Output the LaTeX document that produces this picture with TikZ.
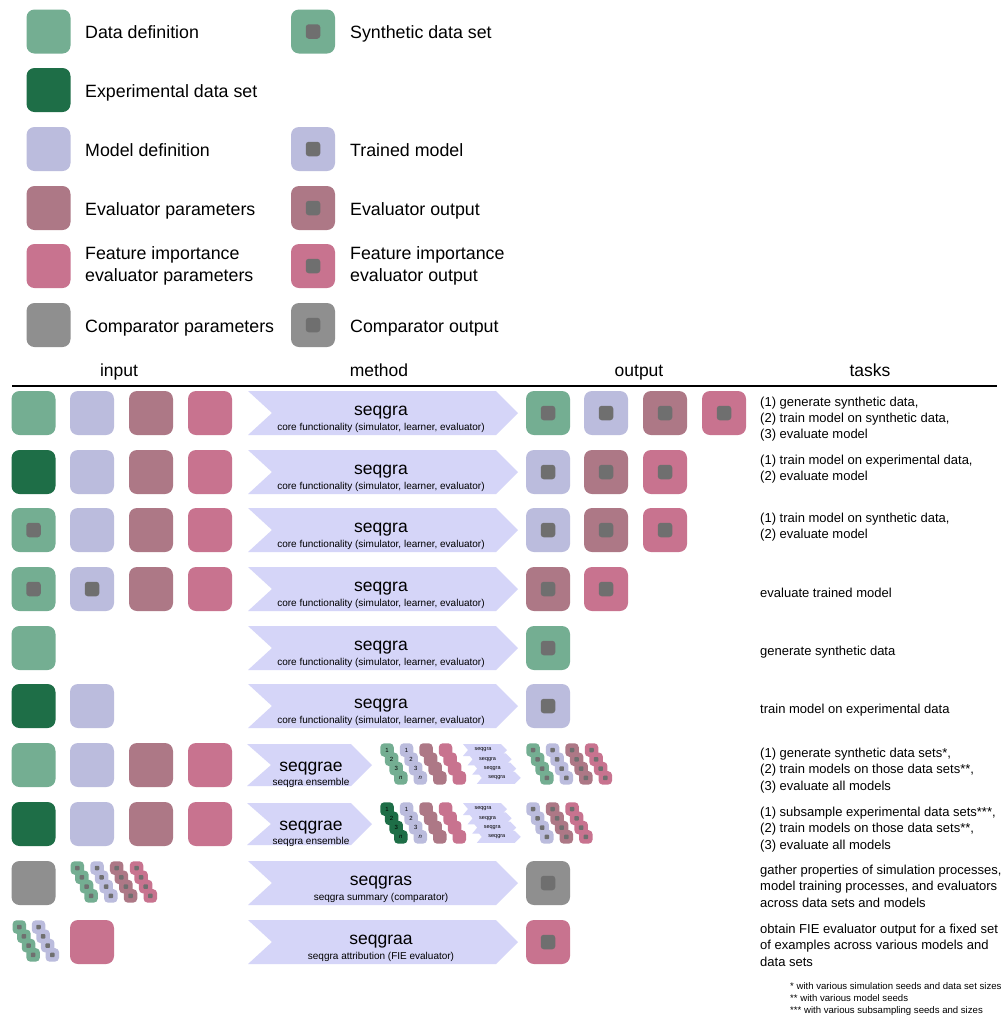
\documentclass[tikz,border=0pt]{standalone}
\usepackage{fontspec}
\setmainfont{Liberation Sans}
\definecolor{cdat}{HTML}{74AE92}
\definecolor{cexp}{HTML}{1E6E47}
\definecolor{cmod}{HTML}{BBBCDD}
\definecolor{ceva}{HTML}{AD7886}
\definecolor{cfie}{HTML}{C8738F}
\definecolor{ccmp}{HTML}{8F8F8F}
\definecolor{csq}{HTML}{6F6F6F}
\definecolor{carr}{HTML}{D5D5F8}
\newcommand{\fs}[2]{\fontsize{#1}{#2}\selectfont}
\tikzset{
  bigbox/.style={rounded corners=8pt, minimum size=44pt, inner sep=0pt, outer sep=0pt},
  bigsq/.style={fill=csq, rounded corners=3pt, minimum size=14.5pt, inner sep=0pt},
  smallbox/.style={rounded corners=4pt, minimum size=13.5pt, inner sep=0pt, font=\fs{6}{6}},
  smallsq/.style={fill=csq, minimum size=4.5pt, inner sep=0pt, rounded corners=0.8pt},
  legtext/.style={anchor=base west, inner sep=0pt, font=\fs{17.8}{22}},
  legtext2/.style={anchor=west, align=left, inner sep=0pt, font=\fs{17.8}{22}},
  head/.style={anchor=base, inner sep=0pt, font=\fs{17.5}{20}},
  task/.style={anchor=north west, align=left, inner sep=0pt, font=\fs{13}{16.2}},
  task1/.style={anchor=west, inner sep=0pt, font=\fs{13}{16}},
  atitle/.style={anchor=base, inner sep=0pt, font=\fs{17.5}{20}},
  asub/.style={anchor=base, inner sep=0pt, font=\fs{10}{12}},
  mtext/.style={inner sep=0pt, font=\fs{5.5}{6}},
}
% big box
\newcommand{\BB}[4]{\node[bigbox,fill=#4] (#1) at (#2,#3) {};}
% big box with inner square
\newcommand{\BS}[4]{\node[bigbox,fill=#4] (#1) at (#2,#3) {}; \node[bigsq] (#1q) at (#1) {};}
% numbered stack
\newcommand{\SN}[4]{\foreach \k/\l in {0/1,1/2,2/3,3/{\itshape n}} {\node[smallbox,fill=#4] (#1\k) at ({#2+4.6*\k},{#3+9.3*\k}) {\l};}}
% blank stack
\newcommand{\SB}[4]{\foreach \k in {0,...,3} {\node[smallbox,fill=#4] (#1\k) at ({#2+4.6*\k},{#3+9.3*\k}) {};}}
% stack with squares
\newcommand{\SQ}[4]{\foreach \k in {0,...,3} {\node[smallbox,fill=#4] (#1\k) at ({#2+4.6*\k},{#3+9.3*\k}) {}; \node[smallsq] (#1q\k) at (#1\k) {};}}
% chevron: name, xleft, xright, ycenter, halfheight, notch
\newcommand{\CHEV}[6]{\fill[carr] (#2,{#4-#5}) -- ({#3-#5},{#4-#5}) -- (#3,#4) -- ({#3-#5},{#4+#5}) -- (#2,{#4+#5}) -- ({#2+#6},#4) -- cycle;}
% big arrow with title: name, ycenter, title, subtitle
\newcommand{\BIGA}[4]{\CHEV{#1}{248}{518}{#2}{22}{24}%
  \node[atitle] (#1t) at (381,{#2+2.5}) {#3};
  \node[asub] (#1s) at (381,{#2+17.5}) {#4};}
% small arrow group: name, ycenter
\newcommand{\SMALLA}[2]{\CHEV{#1}{247}{372}{#2}{21}{24}%
  \node[atitle] (#1t) at (311,{#2+6}) {seqgrae};
  \node[asub] (#1s) at (311,{#2+20}) {seqgra ensemble};
  \foreach \k in {0,...,3} {\CHEV{#1m\k}{463+4.6*\k}{507+4.6*\k}{#2-15+9.3*\k}{6}{5}
    \node[mtext] (#1mt\k) at ({483+4.6*\k},{#2-15+9.3*\k}) {seqgra};}}
\begin{document}
\begin{tikzpicture}[x=1pt,y=-1pt]
\path[use as bounding box, fill=white] (0,0) rectangle (1005,1021);

% ---------- legend ----------
\BB{L1}{48.5}{31.5}{cdat}   \node[legtext] (L1t) at (85,38.5) {Data definition};
\BS{R1}{313}{31.5}{cdat}    \node[legtext] (R1t) at (350,38.5) {Synthetic data set};
\BB{L2}{48.5}{90}{cexp}     \node[legtext] (L2t) at (85,97) {Experimental data set};
\BB{L3}{48.5}{149}{cmod}    \node[legtext] (L3t) at (85,156) {Model definition};
\BS{R3}{313}{149}{cmod}     \node[legtext] (R3t) at (350,156) {Trained model};
\BB{L4}{48.5}{208}{ceva}    \node[legtext] (L4t) at (85,215) {Evaluator parameters};
\BS{R4}{313}{208}{ceva}     \node[legtext] (R4t) at (350,215) {Evaluator output};
\BB{L5}{48.5}{266}{cfie}    \node[legtext2] (L5t) at (85,265.5) {Feature importance\\evaluator parameters};
\BS{R5}{313}{266}{cfie}     \node[legtext2] (R5t) at (350,265.5) {Feature importance\\evaluator output};
\BB{L6}{48.5}{325}{ccmp}    \node[legtext] (L6t) at (85,332) {Comparator parameters};
\BS{R6}{313}{325}{ccmp}     \node[legtext] (R6t) at (350,332) {Comparator output};

% ---------- header ----------
\node[head] (hin) at (119,376) {input};
\node[head] (hme) at (379,376) {method};
\node[head] (hou) at (639,376) {output};
\node[head] (hta) at (870,376) {tasks};
\coordinate (rl) at (12,386);
\coordinate (rr) at (997,386);
\draw[line width=1.7pt] (rl) -- (rr);

% ---------- row 1 ----------
\BB{a1}{33.5}{413}{cdat} \BB{a2}{92}{413}{cmod} \BB{a3}{151}{413}{ceva} \BB{a4}{210}{413}{cfie}
\BIGA{A}{413}{seqgra}{core functionality (simulator, learner, evaluator)}
\BS{ao1}{548}{413}{cdat} \BS{ao2}{606}{413}{cmod} \BS{ao3}{665}{413}{ceva} \BS{ao4}{724}{413}{cfie}
\node[task] (ta) at (760,396.5) {(1) generate synthetic data,\\(2) train model on synthetic data,\\(3) evaluate model};

% ---------- row 2 ----------
\BB{b1}{33.5}{472}{cexp} \BB{b2}{92}{472}{cmod} \BB{b3}{151}{472}{ceva} \BB{b4}{210}{472}{cfie}
\BIGA{B}{472}{seqgra}{core functionality (simulator, learner, evaluator)}
\BS{bo1}{548}{472}{cmod} \BS{bo2}{606}{472}{ceva} \BS{bo3}{665}{472}{cfie}
\node[task] (tb) at (760,454.5) {(1) train model on experimental data,\\(2) evaluate model};

% ---------- row 3 ----------
\BS{c1}{33.5}{530}{cdat} \BB{c2}{92}{530}{cmod} \BB{c3}{151}{530}{ceva} \BB{c4}{210}{530}{cfie}
\BIGA{C}{530}{seqgra}{core functionality (simulator, learner, evaluator)}
\BS{co1}{548}{530}{cmod} \BS{co2}{606}{530}{ceva} \BS{co3}{665}{530}{cfie}
\node[task] (tc) at (760,513) {(1) train model on synthetic data,\\(2) evaluate model};

% ---------- row 4 ----------
\BS{d1}{33.5}{589}{cdat} \BS{d2}{92}{589}{cmod} \BB{d3}{151}{589}{ceva} \BB{d4}{210}{589}{cfie}
\BIGA{D}{589}{seqgra}{core functionality (simulator, learner, evaluator)}
\BS{do1}{548}{589}{ceva} \BS{do2}{606}{589}{cfie}
\node[task1] (td) at (760,593) {evaluate trained model};

% ---------- row 5 ----------
\BB{e1}{33.5}{648}{cdat}
\BIGA{E}{648}{seqgra}{core functionality (simulator, learner, evaluator)}
\BS{eo1}{548}{648}{cdat}
\node[task1] (te) at (760,652) {generate synthetic data};

% ---------- row 6 ----------
\BB{f1}{33.5}{706}{cexp} \BB{f2}{92}{706}{cmod}
\BIGA{F}{706}{seqgra}{core functionality (simulator, learner, evaluator)}
\BS{fo1}{548}{706}{cmod}
\node[task1] (tf) at (760,710) {train model on experimental data};

% ---------- row 7 ----------
\BB{g1}{33.5}{765}{cdat} \BB{g2}{92}{765}{cmod} \BB{g3}{151}{765}{ceva} \BB{g4}{210}{765}{cfie}
\SMALLA{G}{765}
\SN{gs1}{387}{750}{cdat} \SN{gs2}{406.5}{750}{cmod} \SB{gs3}{426}{750}{ceva} \SB{gs4}{445.5}{750}{cfie}
\SQ{go1}{533}{750}{cdat} \SQ{go2}{552.5}{750}{cmod} \SQ{go3}{572}{750}{ceva} \SQ{go4}{591.5}{750}{cfie}
\node[task] (tg) at (760,748) {(1) generate synthetic data sets*,\\(2) train models on those data sets**,\\(3) evaluate all models};

% ---------- row 8 ----------
\BB{h1}{33.5}{824}{cexp} \BB{h2}{92}{824}{cmod} \BB{h3}{151}{824}{ceva} \BB{h4}{210}{824}{cfie}
\SMALLA{H}{824}
\SN{hs1}{387}{809}{cexp} \SN{hs2}{406.5}{809}{cmod} \SB{hs3}{426}{809}{ceva} \SB{hs4}{445.5}{809}{cfie}
\SQ{ho1}{533}{809}{cmod} \SQ{ho2}{552.5}{809}{ceva} \SQ{ho3}{572}{809}{cfie}
\node[task] (th) at (760,807) {(1) subsample experimental data sets***,\\(2) train models on those data sets**,\\(3) evaluate all models};

% ---------- row 9 ----------
\BB{i1}{33.5}{883}{ccmp}
\SQ{is1}{77.3}{868}{cdat} \SQ{is2}{97}{868}{cmod} \SQ{is3}{116.7}{868}{ceva} \SQ{is4}{136.5}{868}{cfie}
\BIGA{I}{883}{seqgras}{seqgra summary (comparator)}
\BS{io1}{548}{883}{ccmp}
\node[task] (ti) at (760,865) {gather properties of simulation processes,\\model training processes, and evaluators\\across data sets and models};

% ---------- row 10 ----------
\SQ{js1}{19.3}{927}{cdat} \SQ{js2}{38.5}{927}{cmod}
\BB{j2}{92}{942}{cfie}
\BIGA{J}{942}{seqgraa}{seqgra attribution (FIE evaluator)}
\BS{jo1}{548}{942}{cfie}
\node[task] (tj) at (760,924) {obtain FIE evaluator output for a fixed set\\of examples across various models and\\data sets};

% ---------- footnotes ----------
\node[anchor=north west, align=left, inner sep=0pt, font=\fs{9.6}{12}] (fn) at (790,982.5)
  {* with various simulation seeds and data set sizes\\** with various model seeds\\*** with various subsampling seeds and sizes};
\end{tikzpicture}
\end{document}
